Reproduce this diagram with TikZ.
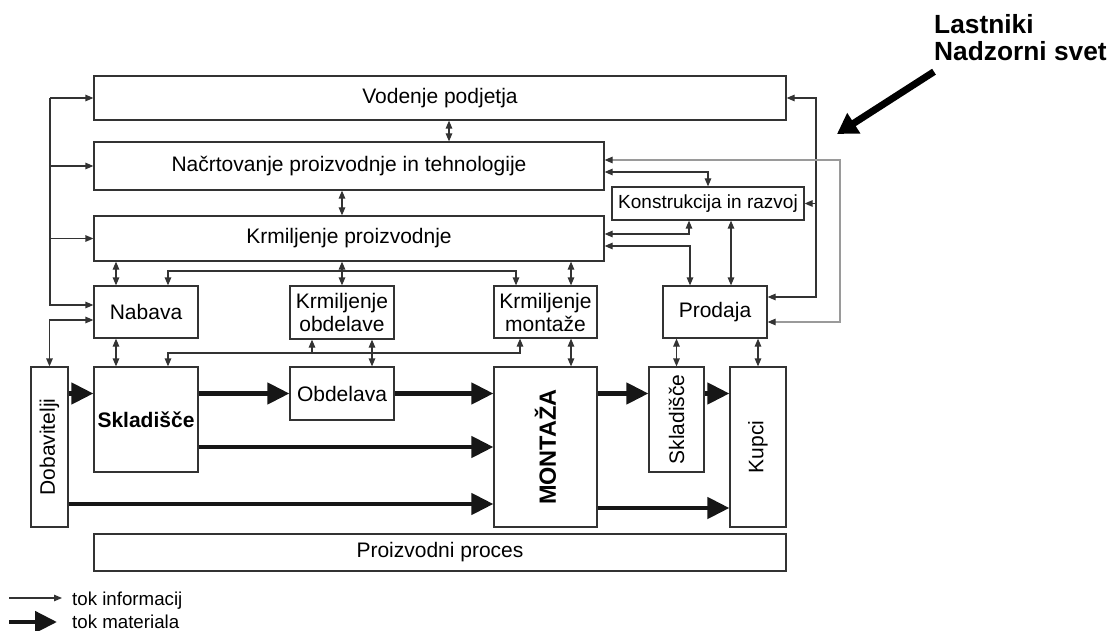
\documentclass[tikz,border=0pt]{standalone}
\usepackage{fontspec}
\setmainfont{Liberation Sans}
\usetikzlibrary{arrows.meta}
\definecolor{linija}{HTML}{333333}
\definecolor{siva}{HTML}{9A9A9A}
\definecolor{temna}{HTML}{161616}
\newcommand{\glavni}{\fontsize{21}{23}\selectfont}
\tikzset{
  box/.style={draw=linija, line width=1.2pt, inner sep=0pt, align=center, font=\glavni},
  tok/.style={draw=linija, line width=1.2pt},
  sivtok/.style={draw=siva, line width=1.2pt, {Triangle[length=8pt,width=6.5pt,color=linija]}-{Triangle[length=8pt,width=6.5pt,color=linija]}},
  mat/.style={draw=temna, line width=4.5pt, -{Triangle[length=22pt,width=21pt]}},
  lastnik/.style={draw=black, line width=7pt, -{Triangle[length=20pt,width=23pt]}},
}

\begin{document}
\begin{tikzpicture}[x=1pt,y=-1pt,>={Triangle[length=8pt,width=6.5pt]}]
\useasboundingbox (0,0) rectangle (1111,631);
\node[box, minimum width=692pt, minimum height=44pt] (vod) at (440,98) {Vodenje podjetja};
\node[box, minimum width=510pt, minimum height=48pt] (nac) at (349,166) {Načrtovanje proizvodnje in tehnologije};
\node[box, minimum width=510pt, minimum height=45pt] (krp) at (349,238.5) {Krmiljenje proizvodnje};
\node[box, minimum width=192pt, minimum height=33pt, font=\fontsize{19}{21}\selectfont] (kon) at (708,203.5) {Konstrukcija in razvoj};
\node[box, minimum width=104pt, minimum height=52pt] (nab) at (146,312) {Nabava};
\node[box, minimum width=104pt, minimum height=53pt] (kob) at (342,312.5) {Krmiljenje\\obdelave};
\node[box, minimum width=103pt, minimum height=52pt] (kmo) at (545.5,312) {Krmiljenje\\montaže};
\node[box, minimum width=104pt, minimum height=52pt] (pro) at (715,312) {Prodaja};
\node[box, minimum width=37pt, minimum height=160pt, label={[rotate=90,font=\glavni]center:Dobavitelji}] (dob) at (49.5,447) {};
\node[box, minimum width=104pt, minimum height=105pt, font=\glavni\bfseries] (skl) at (146,419.5) {Skladišče};
\node[box, minimum width=104pt, minimum height=53pt] (obd) at (342,393.5) {Obdelava};
\node[box, minimum width=103pt, minimum height=160pt, label={[rotate=90,font=\fontsize{23.5}{25}\selectfont\bfseries]center:MONTAŽA}] (mon) at (545.5,447) {};
\node[box, minimum width=55pt, minimum height=105pt, label={[rotate=90,font=\glavni]center:Skladišče}] (sk2) at (676.5,419.5) {};
\node[box, minimum width=56pt, minimum height=160pt, label={[rotate=90,font=\glavni]center:Kupci}] (kup) at (758,447) {};
\node[box, minimum width=692pt, minimum height=37pt] (pp) at (440,552.5) {Proizvodni proces};
\node[inner sep=0pt, anchor=north west, align=left, font=\fontsize{26.3}{27}\selectfont\bfseries] (own) at (934,14) {Lastniki\\Nadzorni svet};

\coordinate (lb) at (50,98);
\coordinate (tb) at (342,271);
\coordinate (bb) at (342,353);
\coordinate (dx) at (816,200);
\coordinate (gx) at (840,240);
\coordinate (ost) at (837,134);

% levo
\draw[tok,->] (lb) -- (vod.west);
\draw[tok,->] (lb) |- ([yshift=7pt]nab.west);
\draw[tok,->] (lb |- nac.west) -- (nac.west);
\draw[tok,->] (lb |- krp.west) -- (krp.west);
\draw[tok,<->] ([yshift=-8pt]nab.west) -| (dob.north);

% sredina
\draw[tok,<->] ([xshift=9pt]vod.south) -- ([xshift=9pt]vod.south |- nac.north);
\draw[tok,<->] ([xshift=-7pt]nac.south) -- ([xshift=-7pt]nac.south |- krp.north);
\draw[tok,<->] ([xshift=-30pt]nab.north) -- ([xshift=-30pt]nab.north |- krp.south);
\draw[tok,<->] (kob.north) -- (kob.north |- krp.south);
\draw[tok,<->] ([xshift=25.5pt]kmo.north) -- ([xshift=25.5pt]kmo.north |- krp.south);
\draw[tok,<->] ([xshift=22pt]nab.north) |- (tb) -| ([xshift=-29.5pt]kmo.north);
\draw[tok,<->] ([xshift=-30pt]skl.north) -- ([xshift=-30pt]skl.north |- nab.south);
\draw[tok,<->] ([xshift=30pt]obd.north) -- ([xshift=30pt]obd.north |- kob.south);
\draw[tok,<->] ([xshift=25.5pt]mon.north) -- ([xshift=25.5pt]mon.north |- kmo.south);
\draw[tok,<->] ([xshift=22pt]skl.north) |- (bb) -| ([xshift=-25.5pt]kmo.south);
\draw[tok,->] ([xshift=-30pt]kob.south |- bb) -- ([xshift=-30pt]kob.south);

% desno
\draw[tok,<->] ([yshift=-6pt]nac.east) -| (kon.north);
\draw[tok,<->] ([yshift=4.5pt]krp.east) -| ([xshift=-19pt]kon.south);
\draw[tok,<->] ([yshift=-7.5pt]krp.east) -| ([xshift=-25pt]pro.north);
\draw[tok,<->] ([xshift=16pt]pro.north) -- ([xshift=16pt]pro.north |- kon.south);
\draw[tok,<->] (vod.east) -| (dx) |- ([yshift=15pt]pro.east);
\draw[tok,->] (dx |- kon.east) -- (kon.east);
\draw[sivtok] ([yshift=6pt]nac.east) -| (gx) |- ([yshift=-10pt]pro.east);
\draw[tok,<->] (sk2.north) -- (sk2.north |- pro.south);
\draw[tok,<->] (kup.north) -- (kup.north |- pro.south);

% material
\draw[mat] (dob.east |- obd.west) -- (skl.west |- obd.west);
\draw[mat] (skl.east |- obd.west) -- (obd.west);
\draw[mat] (obd.east) -- (mon.west |- obd.east);
\draw[mat] (skl.east |- mon.west) -- (mon.west);
\draw[mat] ([yshift=-57pt]dob.east) -- ([yshift=-57pt]dob.east -| mon.west);
\draw[mat] (mon.east |- obd.east) -- (sk2.west |- obd.east);
\draw[mat] (sk2.east |- obd.east) -- (kup.west |- obd.east);
\draw[mat] ([yshift=-61pt]mon.east) -- ([yshift=-61pt]mon.east -| kup.west);

\draw[lastnik] ([yshift=-11pt]own.south west) -- (ost);

% legenda
\node[inner sep=0pt, anchor=base west, font=\fontsize{18.7}{21}\selectfont] (li) at (72,605) {tok informacij};
\node[inner sep=0pt, anchor=base west, font=\fontsize{18.7}{21}\selectfont] (lm) at (72,628) {tok materiala};
\draw[tok,->] ([shift={(-63pt,7pt)}]li.base west) -- ([shift={(-10pt,7pt)}]li.base west);
\draw[mat] ([shift={(-63pt,6pt)}]lm.base west) -- ([shift={(-15pt,6pt)}]lm.base west);
\end{tikzpicture}
\end{document}
